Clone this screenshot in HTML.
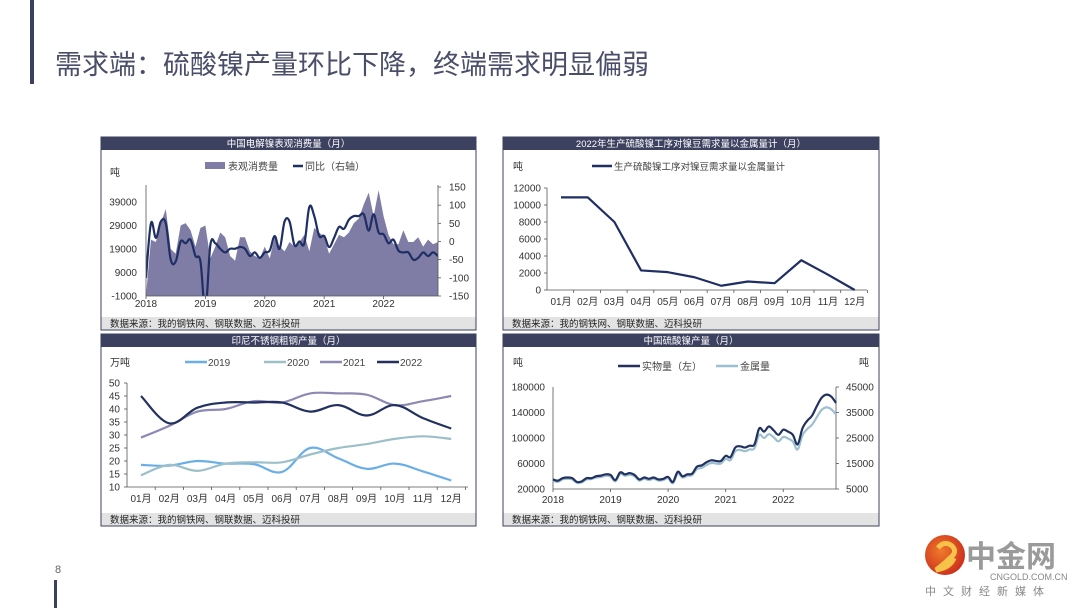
<!DOCTYPE html>
<html><head><meta charset="utf-8">
<style>
body{margin:0;width:1080px;height:608px;overflow:hidden;background:#fff;font-family:"Liberation Sans","Noto Sans CJK SC",sans-serif;}
svg text{font-family:"Liberation Sans","Noto Sans CJK SC",sans-serif;}
</style></head>
<body>
<svg id="s" width="1080" height="608" viewBox="0 0 1080 608" xmlns="http://www.w3.org/2000/svg">
<rect x="30" y="0" width="4" height="84" fill="#3d4160"/>
<text x="55" y="74" font-size="27" fill="#4a4e6a">需求端：硫酸镍产量环比下降，终端需求明显偏弱</text>
<text x="55" y="573" font-size="11" fill="#666">8</text>
<rect x="54" y="580" width="3" height="28" fill="#3d4160"/>
<g>
<defs><radialGradient id="lg" cx="0.4" cy="0.4" r="0.7"><stop offset="0" stop-color="#f07a2a"/><stop offset="1" stop-color="#c8281c"/></radialGradient></defs>
<circle cx="945" cy="555" r="20" fill="url(#lg)"/>
<path d="M938 548 q6 -8 14 -2 q6 6 -2 12 q-6 6 -14 12 q14 -2 18 -12" stroke="#f7c24a" stroke-width="5" fill="none"/>
<text x="966" y="567" font-size="30" font-weight="bold" fill="#9a9a9a">中金网</text>
<text x="990" y="580" font-size="9" fill="#888">CNGOLD.COM.CN</text>
<text x="925" y="595" font-size="11" fill="#888" letter-spacing="7">中文财经新媒体</text>
</g>
</svg>
<script>
// ===== Chart 1 data =====
const c1Years=["2018","2019","2020","2021","2022"];
const c1LeftTicks=[-1000,9000,19000,29000,39000];
const c1RightTicks=[-150,-100,-50,0,50,100,150];
const c1Consumption=[-1000,23000,22000,30000,36000,19000,17000,29000,30000,27000,20000,28000,
29000,15000,20000,26000,24000,16000,14000,24000,24000,18000,16000,15000,
20000,15000,24000,20000,18000,22000,20000,22000,25000,18000,28000,26000,
24000,17000,21000,25000,24000,26000,30000,32000,38000,43000,33000,44000,
33000,25000,21000,21000,27000,22000,22000,24000,20000,23000,21000,22000];
const c1Yoy=[-100,50,10,55,50,-50,-55,0,-5,5,-40,-55,
-190,-10,-5,-20,-30,-20,-20,-15,-20,-40,-30,-45,
-30,-25,15,-20,55,55,-10,0,-5,95,70,15,
15,-15,10,40,35,60,70,70,75,30,75,25,
20,-5,5,-25,-30,-30,-50,-45,-30,-40,-30,-40];
// ===== Chart 2 data =====
const monthLabels=["01月","02月","03月","04月","05月","06月","07月","08月","09月","10月","11月","12月"];
const c2Ticks=[0,2000,4000,6000,8000,10000,12000];
const c2Demand=[10900,10900,8000,2300,2100,1500,500,1000,800,3500,1800,0];
// ===== Chart 3 data =====
const c3Ticks=[10,15,20,25,30,35,40,45,50];
const c3Series=["2019","2020","2021","2022"];
const c3_2019=[18.5,18.2,20,19,18.8,15.8,25,21,17,19,16,12.5];
const c3_2020=[14.5,18.5,16.2,19,19.5,19.5,22.5,25,26.5,28.5,29.5,28.5];
const c3_2021=[29,33.5,39,40,43,42.5,46,46,45.5,41.5,43,45];
const c3_2022=[45,34.5,40.5,42.5,42.5,42.5,39,41.5,37.5,41.5,36.5,32.5];
// ===== Chart 4 data =====
const c4Years=["2018","2019","2020","2021","2022"];
const c4LeftTicks=[20000,60000,100000,140000,180000];
const c4RightTicks=[5000,15000,25000,35000,45000];
const c4Physical=[35000,33000,37000,38000,37000,31000,32000,37000,37000,40000,41000,43000,
42000,34000,46000,43000,45000,42000,35000,38000,36000,38000,35000,36000,
39000,31000,47000,40000,43000,44000,55000,57000,62000,65000,64000,64000,
72000,70000,85000,87000,85000,88000,90000,115000,110000,118000,112000,105000,
113000,110000,105000,90000,115000,127000,135000,150000,163000,168000,165000,155000];
const c4Metal=[8300,7800,8800,9000,8800,7400,7600,8800,8900,9500,9700,10200,
9900,8000,10900,10200,10600,10000,8300,9000,8500,9000,8300,8500,
9200,7300,11000,9500,10200,10400,12800,13300,14400,15200,15000,15000,
16800,16300,19800,20300,19800,20500,21000,26200,25000,26500,25300,23700,
25400,24800,23600,20500,26000,28500,30200,33200,36000,37000,36300,34200];

const NS="http://www.w3.org/2000/svg";
const svg=document.getElementById('s');
function mk(tag,attrs,parent){const e=document.createElementNS(NS,tag);for(const k in attrs)e.setAttribute(k,attrs[k]);(parent||svg).appendChild(e);return e;}
function txt(x,y,s,size,fill,anchor,parent){const t=mk('text',{x:x,y:y,'font-size':size,fill:fill,'text-anchor':anchor||'start'},parent);t.textContent=s;return t;}
function smooth(pts){let d='M'+pts[0][0]+' '+pts[0][1];for(let i=0;i<pts.length-1;i++){const p0=pts[i-1]||pts[i],p1=pts[i],p2=pts[i+1],p3=pts[i+2]||p2;const t=0.18;d+=' C'+(p1[0]+(p2[0]-p0[0])*t)+' '+(p1[1]+(p2[1]-p0[1])*t)+' '+(p2[0]-(p3[0]-p1[0])*t)+' '+(p2[1]-(p3[1]-p1[1])*t)+' '+p2[0]+' '+p2[1];}return d;}

function panel(x,y,w,h,title,name){
  const g=mk('g',{});
  
  
  const r=mk('rect',{x:x,y:y,width:w,height:h,fill:'#fff',stroke:'#3d4160','stroke-width':1},g);
  const tb=mk('rect',{x:x,y:y,width:w,height:13,fill:'#3d4160'},g);
  
  
  const tt=txt(x+w/2,y+10,title,9.5,'#fff','middle',g);
  
  
  const fb=mk('rect',{x:x+0.5,y:y+h-13,width:w-1,height:12.5,fill:'#e3e3e3'},g);
  
  
  const ft=txt(x+9,y+h-3,'数据来源：我的钢铁网、钢联数据、迈科投研',9.5,'#222','start',g);
  
  
  return g;
}

// ---------- Chart 1 ----------
(function(){
  const g=panel(101,137,375,193,'中国电解镍表观消费量（月）','chart-nickel-consumption');
  const x0=146,x1=438,n=c1Consumption.length;
  const xs=i=>x0+i*(x1-x0)/(n-1);
  const yL=v=>296-(v+1000)*94/40000;
  const yR=v=>296-(v+150)*109/300;
  const clip=mk('clipPath',{id:'c1clip'},g);mk('rect',{x:x0,y:180,width:x1-x0,height:116},clip);
  let d='M'+x0+' 296';c1Consumption.forEach((v,i)=>{d+=' L'+xs(i)+' '+yL(v);});d+=' L'+x1+' 296 Z';
  const a=mk('path',{d:d,fill:'#7f7ca6'},g);
  
  
  const l=mk('path',{d:smooth(c1Yoy.map((v,i)=>[xs(i),yR(v)])),fill:'none',stroke:'#1f2f63','stroke-width':2.2,'clip-path':'url(#c1clip)'},g);
  
  
  mk('line',{x1:x0,y1:185,x2:x0,y2:296,stroke:'#555','stroke-width':0.8},g);
  mk('line',{x1:x1,y1:185,x2:x1,y2:296,stroke:'#555','stroke-width':0.8},g);
  mk('line',{x1:x0,y1:296,x2:x1,y2:296,stroke:'#555','stroke-width':0.8},g);
  c1LeftTicks.forEach(v=>{txt(x0-9,yL(v)+3.5,String(v),10,'#333','end',g);});
  c1RightTicks.forEach(v=>{mk('line',{x1:x1,y1:yR(v),x2:x1+3,y2:yR(v),stroke:'#555','stroke-width':0.8},g);txt(x1+11,yR(v)+3.5,String(v),10,'#333','start',g);});
  c1Years.forEach((s,i)=>{const x=x0+i*12*(x1-x0)/(n-1);mk('line',{x1:x,y1:296,x2:x,y2:299,stroke:'#555','stroke-width':0.8},g);txt(x,307,s,10,'#333','middle',g);});
  txt(110,176,'吨',10,'#333','start',g);
  mk('rect',{x:205,y:162,width:20,height:7,fill:'#7f7ca6'},g);
  txt(228,170,'表观消费量',10,'#444','start',g);
  mk('line',{x1:293,y1:166,x2:303,y2:166,stroke:'#1f2f63','stroke-width':2.5},g);
  txt(305,170,'同比（右轴）',10,'#444','start',g);
})();

// ---------- Chart 2 ----------
(function(){
  const g=panel(503,137,376,193,'2022年生产硫酸镍工序对镍豆需求量以金属量计（月）','chart-nickel-bean-demand');
  const x0=547,xe=867,first=561,step=26.7;
  const xs=i=>first+i*step;
  const y=v=>290-v*102/12000;
  mk('line',{x1:x0,y1:188,x2:x0,y2:290,stroke:'#555','stroke-width':0.8},g);
  mk('line',{x1:x0,y1:290,x2:xe,y2:290,stroke:'#555','stroke-width':0.8},g);
  c2Ticks.forEach(v=>{mk('line',{x1:x0-3,y1:y(v),x2:x0,y2:y(v),stroke:'#555','stroke-width':0.8},g);txt(x0-6,y(v)+3.5,String(v),10,'#333','end',g);});
  monthLabels.forEach((s,i)=>{mk('line',{x1:x0+(i+1)*step,y1:290,x2:x0+(i+1)*step,y2:293,stroke:'#555','stroke-width':0.8},g);txt(xs(i),305,s,10,'#333','middle',g);});
  const l=mk('polyline',{points:c2Demand.map((v,i)=>xs(i)+','+y(v)).join(' '),fill:'none',stroke:'#1f2f63','stroke-width':2.2,'stroke-linejoin':'round'},g);
  
  
  txt(513,170,'吨',10,'#333','start',g);
  mk('line',{x1:592,y1:166,x2:612,y2:166,stroke:'#1f2f63','stroke-width':2.5},g);
  txt(614,170,'生产硫酸镍工序对镍豆需求量以金属量计',9.5,'#444','start',g);
})();

// ---------- Chart 3 ----------
(function(){
  const g=panel(101,334,375,192,'印尼不锈钢粗钢产量（月）','chart-indonesia-crude-steel');
  const x0=127,xe=468,first=141,step=28.2;
  const xs=i=>first+i*step;
  const y=v=>487-(v-10)*104/40;
  mk('line',{x1:x0,y1:383,x2:x0,y2:487,stroke:'#555','stroke-width':0.8},g);
  mk('line',{x1:x0,y1:487,x2:xe,y2:487,stroke:'#555','stroke-width':0.8},g);
  c3Ticks.forEach(v=>{mk('line',{x1:x0-3,y1:y(v),x2:x0,y2:y(v),stroke:'#555','stroke-width':0.8},g);txt(x0-7,y(v)+3.5,String(v),10,'#333','end',g);});
  monthLabels.forEach((s,i)=>{mk('line',{x1:x0+(i+1)*step,y1:487,x2:x0+(i+1)*step,y2:490,stroke:'#555','stroke-width':0.8},g);txt(xs(i),502,s,10,'#333','middle',g);});
  const colors=['#6aaee8','#9dbfc9','#8d89b3','#22315f'];
  const data=[c3_2019,c3_2020,c3_2021,c3_2022];
  const lx=[185,264,320,377];
  data.forEach((arr,k)=>{
    const p=mk('path',{d:smooth(arr.map((v,i)=>[xs(i),y(v)])),fill:'none',stroke:colors[k],'stroke-width':2.2},g);
    
    
    mk('line',{x1:lx[k],y1:362,x2:lx[k]+22,y2:362,stroke:colors[k],'stroke-width':2.5},g);
    txt(lx[k]+23,366,c3Series[k],10,'#444','start',g);
  });
  txt(110,366,'万吨',10,'#333','start',g);
})();

// ---------- Chart 4 ----------
(function(){
  const g=panel(503,334,376,192,'中国硫酸镍产量（月）','chart-nickel-sulfate-output');
  const x0=553,x1=836,n=c4Physical.length;
  const xs=i=>x0+i*(x1-x0)/(n-1);
  const yL=v=>489-(v-20000)*102/160000;
  const yR=v=>489-(v-5000)*102/40000;
  mk('line',{x1:x0,y1:387,x2:x0,y2:489,stroke:'#555','stroke-width':0.8},g);
  mk('line',{x1:x1,y1:387,x2:x1,y2:489,stroke:'#555','stroke-width':0.8},g);
  mk('line',{x1:x0,y1:489,x2:x1,y2:489,stroke:'#555','stroke-width':0.8},g);
  c4LeftTicks.forEach(v=>{txt(x0-8,yL(v)+3.5,String(v),10,'#333','end',g);});
  c4RightTicks.forEach(v=>{mk('line',{x1:x1,y1:yR(v),x2:x1+3,y2:yR(v),stroke:'#555','stroke-width':0.8},g);txt(x1+10,yR(v)+3.5,String(v),10,'#333','start',g);});
  c4Years.forEach((s,i)=>{const x=x0+i*12*(x1-x0)/(n-1);mk('line',{x1:x,y1:489,x2:x,y2:492,stroke:'#555','stroke-width':0.8},g);txt(x,503,s,10,'#333','middle',g);});
  const m=mk('path',{d:smooth(c4Metal.map((v,i)=>[xs(i),yR(v)])),fill:'none',stroke:'#9dbfd0','stroke-width':2.2},g);
  
  
  const p=mk('path',{d:smooth(c4Physical.map((v,i)=>[xs(i),yL(v)])),fill:'none',stroke:'#22315f','stroke-width':2.2},g);
  
  
  txt(513,366,'吨',10,'#333','start',g);
  txt(859,366,'吨',10,'#333','start',g);
  mk('line',{x1:618,y1:366,x2:640,y2:366,stroke:'#22315f','stroke-width':2.5},g);
  txt(642,370,'实物量（左）',10,'#444','start',g);
  mk('line',{x1:716,y1:366,x2:738,y2:366,stroke:'#9dbfd0','stroke-width':2.5},g);
  txt(740,370,'金属量',10,'#444','start',g);
})();
</script>
</body></html>
